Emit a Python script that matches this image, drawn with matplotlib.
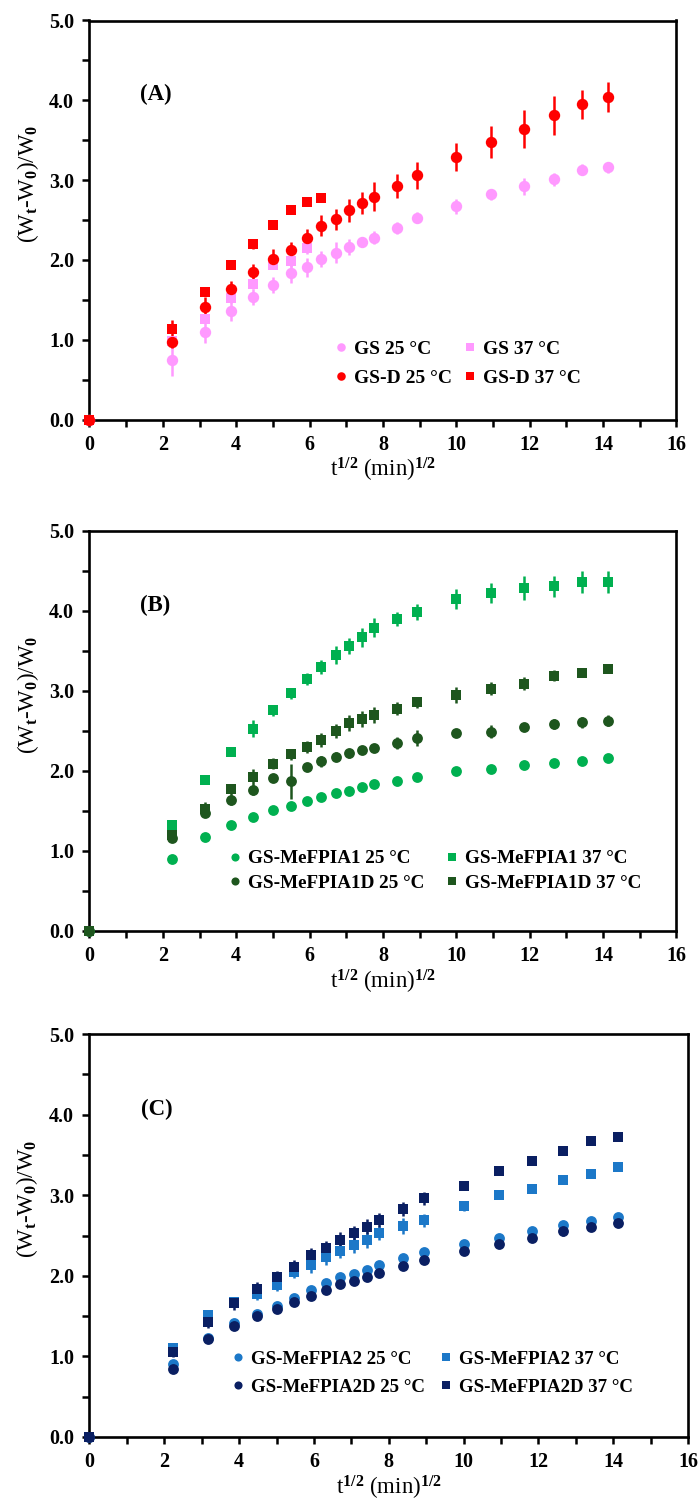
import numpy as np
import matplotlib
matplotlib.use("Agg")
import matplotlib.pyplot as plt
from matplotlib.ticker import MultipleLocator, FormatStrFormatter

# ---------------- data ----------------
# square root of sampling time, (min)^1/2
t_sqrt = [0, 2.24, 3.16, 3.87, 4.47, 5.00, 5.48, 5.92, 6.32, 6.71, 7.07,
          7.42, 7.75, 8.37, 8.94, 10.00, 10.95, 11.83, 12.65, 13.42, 14.14]

# Panel A
gs_25 = [0, 0.74, 1.10, 1.36, 1.53, 1.68, 1.83, 1.91, 2.01, 2.09, 2.16,
         2.22, 2.28, 2.40, 2.53, 2.67, 2.82, 2.92, 3.01, 3.13, 3.16]
gs_25_err = [0, 0.20, 0.14, 0.12, 0.10, 0.10, 0.12, 0.12, 0.10, 0.13, 0.10,
             0.06, 0.08, 0.07, 0.07, 0.09, 0.07, 0.11, 0.08, 0.07, 0.07]
gs_37 = [0, 0.98, 1.26, 1.52, 1.70, 1.94, 1.99, 2.15]
gs_37_err = [0, 0.05, 0.05, 0.06, 0.07, 0.06, 0.08, 0.08]
gsd_25 = [0, 0.97, 1.41, 1.64, 1.85, 2.01, 2.13, 2.27, 2.43, 2.51, 2.62,
          2.71, 2.79, 2.93, 3.06, 3.29, 3.48, 3.64, 3.81, 3.95, 4.04]
gsd_25_err = [0, 0.08, 0.12, 0.10, 0.10, 0.13, 0.10, 0.12, 0.13, 0.13, 0.14,
              0.14, 0.18, 0.15, 0.17, 0.18, 0.20, 0.24, 0.24, 0.18, 0.19]
gsd_37 = [0, 1.13, 1.60, 1.94, 2.20, 2.44, 2.62, 2.73, 2.77]
gsd_37_err = [0, 0.12, 0.05, 0.04, 0.06, 0.03, 0.03, 0.03, 0.03]

# Panel B
m1_25 = [0, 0.90, 1.18, 1.32, 1.43, 1.51, 1.56, 1.62, 1.68, 1.72, 1.75,
         1.80, 1.84, 1.88, 1.92, 2.00, 2.03, 2.08, 2.10, 2.12, 2.16]
m1_25_err = [0, 0.03, 0.03, 0.03, 0.05, 0.05, 0.04, 0.03, 0.03, 0.03, 0.03,
             0.03, 0.03, 0.03, 0.04, 0.03, 0.03, 0.04, 0.03, 0.03, 0.03]
m1_37 = [0, 1.32, 1.89, 2.24, 2.53, 2.76, 2.97, 3.15, 3.30, 3.45, 3.56,
         3.67, 3.79, 3.90, 3.99, 4.15, 4.22, 4.29, 4.31, 4.36, 4.36]
m1_37_err = [0, 0.03, 0.04, 0.05, 0.11, 0.07, 0.07, 0.07, 0.09, 0.11, 0.10,
             0.12, 0.12, 0.09, 0.10, 0.13, 0.125, 0.15, 0.13, 0.135, 0.135]
m1d_25 = [0, 1.16, 1.47, 1.64, 1.76, 1.91, 1.87, 2.05, 2.12, 2.18, 2.22,
          2.26, 2.29, 2.35, 2.41, 2.47, 2.49, 2.55, 2.59, 2.61, 2.63]
m1d_25_err = [0, 0.04, 0.05, 0.06, 0.06, 0.05, 0.22, 0.04, 0.07, 0.06, 0.06,
              0.05, 0.05, 0.08, 0.10, 0.05, 0.08, 0.04, 0.06, 0.07, 0.07]
m1d_37 = [0, 1.20, 1.53, 1.77, 1.93, 2.09, 2.21, 2.30, 2.39, 2.50, 2.60,
          2.65, 2.70, 2.78, 2.86, 2.95, 3.03, 3.09, 3.19, 3.22, 3.27]
m1d_37_err = [0, 0.08, 0.08, 0.07, 0.10, 0.07, 0.07, 0.08, 0.09, 0.09, 0.10,
              0.10, 0.10, 0.08, 0.07, 0.10, 0.08, 0.08, 0.07, 0.04, 0.05]

# Panel C
m2_25 = [0, 0.90, 1.23, 1.42, 1.53, 1.63, 1.73, 1.82, 1.91, 1.98, 2.02,
         2.07, 2.13, 2.22, 2.29, 2.40, 2.47, 2.56, 2.63, 2.68, 2.73]
m2_25_err = [0, 0.04, 0.03, 0.04, 0.04, 0.04, 0.04, 0.04, 0.04, 0.04, 0.04,
             0.04, 0.04, 0.04, 0.04, 0.04, 0.04, 0.04, 0.04, 0.05, 0.04]
m2_37 = [0, 1.10, 1.51, 1.68, 1.78, 1.89, 2.05, 2.13, 2.23, 2.31, 2.38,
         2.44, 2.53, 2.62, 2.69, 2.87, 3.00, 3.08, 3.19, 3.26, 3.35]
m2_37_err = [0, 0.05, 0.05, 0.06, 0.08, 0.08, 0.08, 0.09, 0.09, 0.09, 0.10,
             0.10, 0.09, 0.10, 0.08, 0.06, 0.04, 0.04, 0.04, 0.05, 0.05]
m2d_25 = [0, 0.84, 1.22, 1.38, 1.50, 1.59, 1.68, 1.75, 1.82, 1.90, 1.94,
          1.99, 2.04, 2.12, 2.20, 2.31, 2.40, 2.47, 2.55, 2.61, 2.65]
m2d_25_err = [0, 0.03, 0.04, 0.04, 0.04, 0.04, 0.04, 0.04, 0.04, 0.04, 0.04,
              0.04, 0.04, 0.04, 0.04, 0.04, 0.04, 0.04, 0.05, 0.05, 0.05]
m2d_37 = [0, 1.05, 1.43, 1.66, 1.84, 1.98, 2.11, 2.26, 2.34, 2.45, 2.53,
          2.61, 2.69, 2.83, 2.96, 3.12, 3.30, 3.42, 3.55, 3.67, 3.72]
m2d_37_err = [0, 0.06, 0.08, 0.08, 0.08, 0.08, 0.08, 0.08, 0.09, 0.09, 0.09,
              0.09, 0.09, 0.09, 0.08, 0.05, 0.04, 0.04, 0.04, 0.04, 0.04]

# ---------------- style ----------------
SERIF = "Liberation Serif"
plt.rcParams["font.family"] = [SERIF, "DejaVu Serif"]
plt.rcParams["font.weight"] = "bold"
plt.rcParams["mathtext.fontset"] = "custom"
plt.rcParams["mathtext.rm"] = SERIF + ":bold"
plt.rcParams["mathtext.it"] = SERIF + ":bold"
plt.rcParams["mathtext.bf"] = SERIF + ":bold"
plt.rcParams["mathtext.default"] = "rm"

W, H = 699, 1506
fig = plt.figure(figsize=(W / 100, H / 100), dpi=100)


def axes_px(left, top, right, bottom):
    return fig.add_axes([left / W, 1 - bottom / H, (right - left) / W, (bottom - top) / H])


def style_axes(ax, tag):
    ax.set_xlim(0, 16)
    ax.set_ylim(0, 5)
    ax.xaxis.set_major_locator(MultipleLocator(2))
    ax.xaxis.set_minor_locator(MultipleLocator(1))
    ax.yaxis.set_major_locator(MultipleLocator(1))
    ax.yaxis.set_minor_locator(MultipleLocator(0.5))
    ax.yaxis.set_major_formatter(FormatStrFormatter("%.1f"))
    ax.tick_params(which="both", direction="out", length=5, width=1.8, color="black")
    ax.tick_params(which="major", labelsize=14.5, pad=6)
    for s in ax.spines.values():
        s.set_linewidth(1.9)
    ax.set_xlabel("t$^{1/2}$ (min)$^{1/2}$", fontsize=16.5, labelpad=1)
    ax.set_ylabel("(W$_t$-W$_0$)/W$_0$", fontsize=16.5)
    ax.yaxis.set_label_coords(-0.083, 0.59)
    ax.text(1.8, 4.07, tag, fontsize=16.5, ha="center", va="center")


def plot_series(ax, y, err, color, marker, ms):
    n = len(y)
    eb = ax.errorbar(t_sqrt[:n], y, yerr=err, fmt=marker, color=color, ecolor=color,
                     ms=ms, mec=color, mew=0, elinewidth=1.8, capsize=3.5, capthick=1.8,
                     clip_on=False, zorder=3)
    return eb[0]


def add_legend(ax, handles, labels, anchor, labelspacing, columnspacing, size):
    ax.legend(handles, labels, ncol=2, frameon=False, loc="upper left",
              bbox_to_anchor=anchor, fontsize=size, handlelength=0.6,
              handletextpad=0.4, columnspacing=columnspacing, labelspacing=labelspacing,
              markerscale=0.75, borderaxespad=0, borderpad=0)


# ---------------- panel A ----------------
axA = axes_px(89.5, 20.5, 676.5, 419.5)
pink, red = "#FF99FF", "#FF0000"
h1 = plot_series(axA, gs_25, gs_25_err, pink, "o", 8.2)
h2 = plot_series(axA, gs_37, gs_37_err, pink, "s", 7.5)
h3 = plot_series(axA, gsd_25, gsd_25_err, red, "o", 8.2)
h4 = plot_series(axA, gsd_37, gsd_37_err, red, "s", 7.5)
style_axes(axA, "(A)")
add_legend(axA, [h1, h3, h2, h4],
           ["GS 25 °C", "GS-D 25 °C", "GS 37 °C", "GS-D 37 °C"],
           (0.418, 0.198), 0.57, 0.6, 14)

# ---------------- panel B ----------------
axB = axes_px(89.5, 531, 676.5, 931)
lg, dg = "#00B050", "#1E561E"
h1 = plot_series(axB, m1_25, m1_25_err, lg, "o", 7.8)
h2 = plot_series(axB, m1_37, m1_37_err, lg, "s", 7.5)
h3 = plot_series(axB, m1d_25, m1d_25_err, dg, "o", 7.8)
h4 = plot_series(axB, m1d_37, m1d_37_err, dg, "s", 7.5)
style_axes(axB, "(B)")
add_legend(axB, [h1, h3, h2, h4],
           ["GS-MeFPIA1 25 °C", "GS-MeFPIA1D 25 °C", "GS-MeFPIA1 37 °C", "GS-MeFPIA1D 37 °C"],
           (0.238, 0.2025), 0.36, 1.1, 13.8)

# ---------------- panel C ----------------
axC = axes_px(89.5, 1034, 688, 1437)
lb, nb = "#1C78C8", "#0A1F62"
h1 = plot_series(axC, m2_25, m2_25_err, lb, "o", 7.8)
h2 = plot_series(axC, m2_37, m2_37_err, lb, "s", 7.5)
h3 = plot_series(axC, m2d_25, m2d_25_err, nb, "o", 7.8)
h4 = plot_series(axC, m2d_37, m2d_37_err, nb, "s", 7.5)
style_axes(axC, "(C)")
add_legend(axC, [h1, h3, h2, h4],
           ["GS-MeFPIA2 25 °C", "GS-MeFPIA2D 25 °C", "GS-MeFPIA2 37 °C", "GS-MeFPIA2D 37 °C"],
           (0.238, 0.215), 0.58, 0.8, 13.6)

fig.savefig("out.png", dpi=100)
